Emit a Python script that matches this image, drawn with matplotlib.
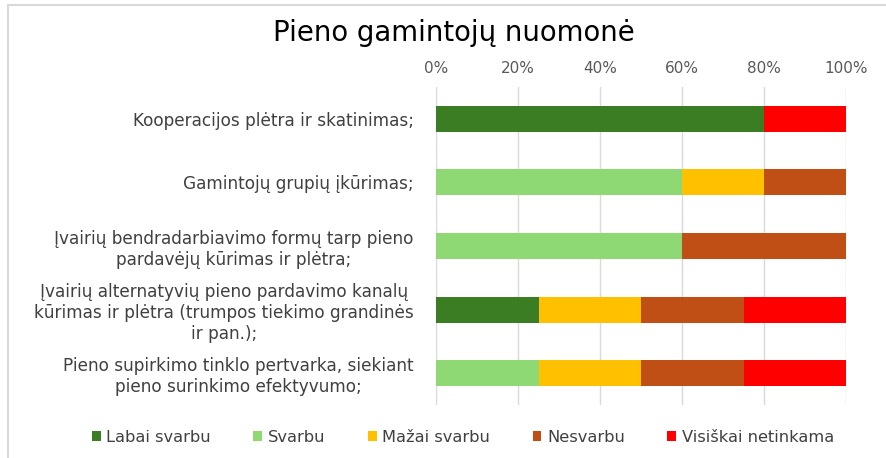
import matplotlib.pyplot as plt
from matplotlib.patches import Rectangle
import numpy as np

categories = [
    "Kooperacijos plėtra ir skatinimas;",
    "Gamintojų grupių įkūrimas;",
    "Įvairių bendradarbiavimo formų tarp pieno\npardavėjų kūrimas ir plėtra;",
    "Įvairių alternatyvių pieno pardavimo kanalų\nkūrimas ir plėtra (trumpos tiekimo grandinės\nir pan.);",
    "Pieno supirkimo tinklo pertvarka, siekiant\npieno surinkimo efektyvumo;",
]
series_names = ["Labai svarbu", "Svarbu", "Mažai svarbu", "Nesvarbu", "Visiškai netinkama"]
labai = [80, 0, 0, 25, 0]
svarbu = [0, 60, 60, 0, 25]
mazai = [0, 20, 0, 25, 25]
nesvarbu = [0, 20, 40, 25, 25]
visiskai = [20, 0, 0, 25, 25]
colors = ["#3A7D22", "#8ED973", "#FFC000", "#C04F15", "#FF0000"]
xticks = [0, 20, 40, 60, 80, 100]

plt.rcParams['font.family'] = ['DejaVu Sans']

fig = plt.figure(figsize=(8.86, 4.58), dpi=100)
ax = fig.add_axes([436/886, 1-405/458, (846-436)/886, (405-87)/458])

y = np.arange(len(categories))
left = np.zeros(len(categories))
for name, vals, c in zip(series_names, [labai, svarbu, mazai, nesvarbu, visiskai], colors):
    vals = np.array(vals, dtype=float)
    ax.barh(y, vals, left=left, height=0.41, color=c, label=name, zorder=3)
    left += vals

ax.set_xlim(0, 100)
ax.set_ylim(len(categories) - 0.5, -0.5)
ax.set_yticks(y)
ax.set_yticklabels(categories, fontsize=12.2, color="#404040")
for t in ax.get_yticklabels():
    t.set_multialignment("center")
    t.set_linespacing(1.2)
ax.set_xticks(xticks)
ax.set_xticklabels([f"{v}%" for v in xticks], fontsize=11, color="#595959")
ax.xaxis.tick_top()
ax.tick_params(axis="both", length=0)
ax.tick_params(axis="y", pad=16)
ax.tick_params(axis="x", pad=8)
ax.grid(axis="x", color="#d9d9d9", linewidth=1, zorder=0)
for s in ax.spines.values():
    s.set_visible(False)

fig.text(454/886, 1-33/458, "Pieno gamintojų nuomonė", ha="center", va="center",
         fontsize=19.8, color="#000000")

fig.legend(loc="center", bbox_to_anchor=(463/886, 1-437/458), ncol=5, frameon=False,
           fontsize=11.7, handlelength=0.55, handleheight=0.55, handletextpad=0.35,
           columnspacing=2.6, labelcolor="#404040")

fig.patches.append(Rectangle((8/886, -0.1), 1.1, 1 - 5/458 + 0.1, transform=fig.transFigure,
                             fill=False, edgecolor="#d9d9d9", linewidth=1.5))

fig.savefig("out.png", dpi=100, facecolor="white")
